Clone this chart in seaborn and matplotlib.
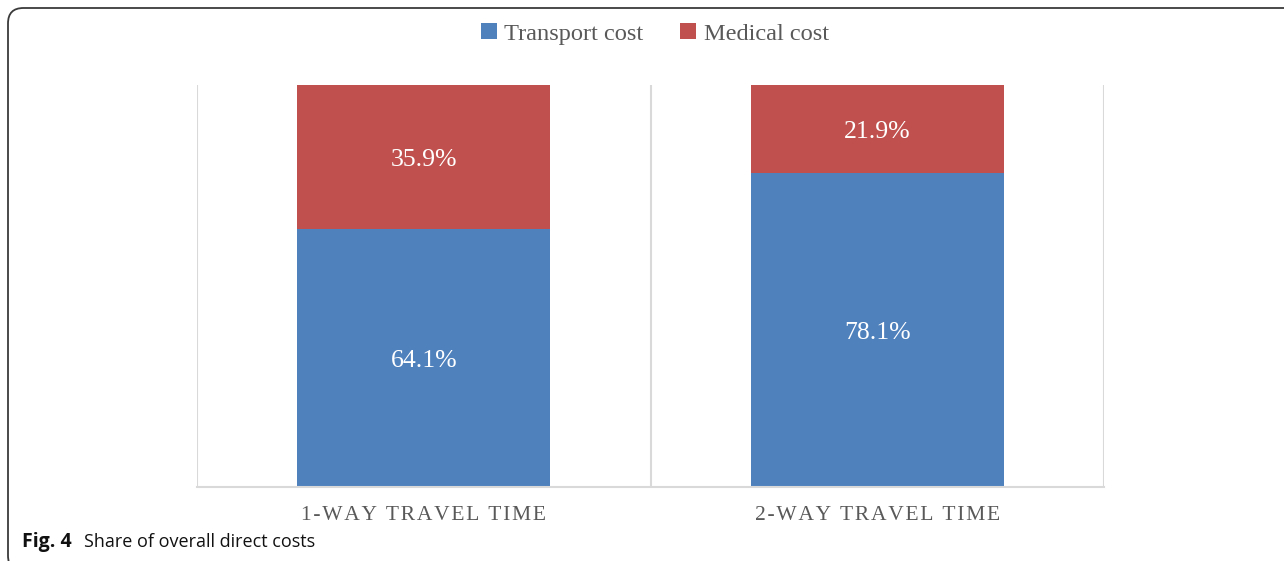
import matplotlib
matplotlib.use("Agg")
import matplotlib.pyplot as plt
from matplotlib.patches import FancyBboxPatch, Patch
from matplotlib.transforms import offset_copy
import seaborn as sns
import pandas as pd

categories = ["1-WAY TRAVEL TIME", "2-WAY TRAVEL TIME"]
transport_share = [64.1, 78.1]
medical_share = [35.9, 21.9]
series_names = ["Transport cost", "Medical cost"]

BLUE = "#4F81BD"
RED = "#C0504D"
GRID = "#D9D9D9"
TEXT = "#595959"
SERIF = "Liberation Serif"

sns.set_theme(style="white")
plt.rcParams["font.family"] = [SERIF, "DejaVu Serif"]


def tracked(label):
    """Spread the letters of an axis label with hair spaces."""
    return "\u200a".join(label)


W, H = 1284, 561
fig = plt.figure(figsize=(W / 100, H / 100), dpi=100)
ax = fig.add_axes([197 / W, 1 - 487 / H, (1104 - 197) / W, (487 - 85) / H])

df = pd.DataFrame({
    "category": categories,
    "transport": transport_share,
    "total": [t + m for t, m in zip(transport_share, medical_share)],
})

# stacked bars: full height in red, transport share drawn over it in blue
sns.barplot(data=df, x="category", y="total", color=RED, width=0.558,
            saturation=1, ax=ax, linewidth=0)
sns.barplot(data=df, x="category", y="transport", color=BLUE, width=0.558,
            saturation=1, ax=ax, linewidth=0)

label_tf = offset_copy(ax.transData, fig=fig, x=0, y=-3, units="dots")
for i, (t, m) in enumerate(zip(transport_share, medical_share)):
    ax.text(i, t / 2, f"{t:.1f}%", ha="center", va="center", transform=label_tf,
            color="white", fontsize=18.5, family=SERIF)
    ax.text(i, t + m / 2, f"{m:.1f}%", ha="center", va="center", transform=label_tf,
            color="white", fontsize=18.5, family=SERIF)

ax.set_xlim(-0.5, len(categories) - 0.5)
ax.set_ylim(0, 100)
ax.set_yticks([])
ax.set_xlabel("")
ax.set_ylabel("")

# category separators
ax.set_xticks([x - 0.5 for x in range(len(categories) + 1)], minor=True)
ax.grid(which="minor", axis="x", color=GRID, linewidth=1.5)
ax.tick_params(axis="x", which="both", length=0, pad=14)
ax.set_xticklabels([tracked(c) for c in categories], color=TEXT,
                   fontsize=15.5, family=SERIF)

for side in ["top", "left", "right"]:
    ax.spines[side].set_visible(False)
ax.spines["bottom"].set_color(GRID)
ax.spines["bottom"].set_linewidth(1.5)

handles = [Patch(facecolor=BLUE, edgecolor="none"),
           Patch(facecolor=RED, edgecolor="none")]
fig.legend(handles, series_names, loc="center", bbox_to_anchor=(655 / W, 1 - 34 / H),
           ncol=2, frameon=False, handlelength=0.65,
           handleheight=0.65, handletextpad=0.3, columnspacing=1.5,
           labelcolor=TEXT, prop={"family": SERIF, "size": 17.6})

# rounded panel outline
frame = FancyBboxPatch((8 / W, -10 / H), 1400 / W, (H - 8 + 10) / H,
                       boxstyle="round,pad=0,rounding_size=0.012",
                       transform=fig.transFigure, fill=False,
                       edgecolor="#3a3a3a", linewidth=1.3, mutation_aspect=W / H)
fig.patches.append(frame)

fig.text(22 / W, 1 - 542 / H, "Fig. 4", fontweight="bold", fontsize=14,
         family="Open Sans", va="center", ha="left", color="#111111")
fig.text(84 / W, 1 - 542 / H, "Share of overall direct costs", fontsize=13,
         family="Open Sans", va="center", ha="left", color="#111111")

fig.savefig("out.png", dpi=100)
